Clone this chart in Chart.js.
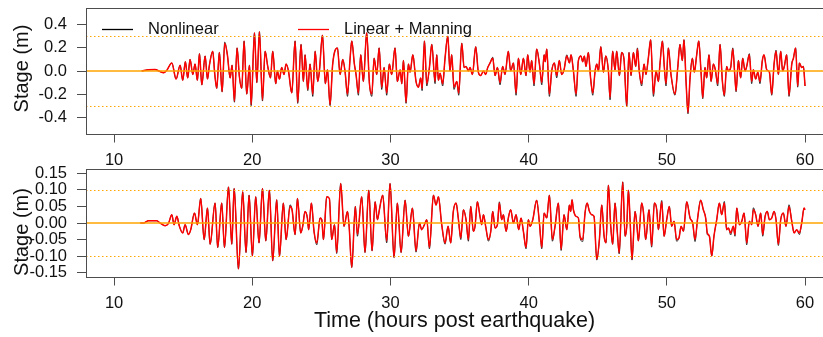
<!DOCTYPE html>
<html>
<head>
<meta charset="utf-8">
<title>Stage time series</title>
<script src="https://cdn.jsdelivr.net/npm/chart.js@4.4.1/dist/chart.umd.min.js"></script>
<style>
  body { margin: 0; background: #fff; }
  #wrap { position: relative; width: 823px; height: 337px; overflow: hidden; }
  #wrap canvas { position: absolute; left: 0; }
  #stageTop { top: 0; }
  #stageBottom { top: 160px; }
</style>
</head>
<body>
<div id="wrap">
  <canvas id="stageTop" width="823" height="170"></canvas>
  <canvas id="stageBottom" width="823" height="177"></canvas>
</div>
<script>
// ---- gauge 1 (upper panel) ----
var hours1 = [
  12.00,12.49,12.97,13.33,13.57,13.81,14.18,14.49,14.78,14.97,
  15.16,15.33,15.50,15.70,15.86,16.03,16.18,16.35,16.59,16.76,
  16.90,17.14,17.29,17.43,17.62,17.82,18.01,18.20,18.40,18.54,
  18.71,18.90,19.07,19.24,19.41,19.60,19.80,19.92,20.16,20.33,
  20.52,20.74,20.93,21.12,21.32,21.48,21.70,21.82,21.97,22.13,
  22.30,22.45,22.62,22.86,23.10,23.29,23.53,23.70,23.82,24.02,
  24.18,24.38,24.55,24.74,24.86,25.08,25.29,25.44,25.63,25.82,
  26.16,26.36,26.55,26.72,26.89,27.08,27.20,27.39,27.51,27.68,
  27.85,28.04,28.28,28.48,28.65,28.82,29.01,29.18,29.37,29.54,
  29.73,29.92,30.09,30.33,30.50,30.70,30.82,30.94,31.13,31.30,
  31.42,31.62,31.85,32.02,32.19,32.29,32.46,32.63,32.82,32.99,
  33.23,33.35,33.47,33.59,33.78,33.95,34.15,34.31,34.43,34.60,
  34.80,34.94,35.16,35.33,35.47,35.64,35.76,35.93,36.17,36.36,
  36.53,36.73,36.89,37.04,37.21,37.40,37.57,37.74,37.93,38.12,
  38.29,38.53,38.70,38.90,39.09,39.26,39.43,39.62,39.81,39.93,
  40.10,40.22,40.39,40.58,40.78,40.95,41.12,41.20,41.31,41.50,
  41.67,41.86,42.03,42.22,42.39,42.56,42.76,42.95,43.07,43.24,
  43.43,43.60,43.79,43.91,44.03,44.15,44.32,44.49,44.64,44.81,
  44.93,45.05,45.22,45.41,45.58,45.77,45.89,46.08,46.25,46.37,
  46.57,46.73,46.90,47.10,47.26,47.41,47.58,47.75,47.87,48.01,
  48.18,48.35,48.49,48.66,48.83,49.03,49.22,49.39,49.51,49.68,
  49.82,49.94,50.11,50.30,50.59,50.79,50.95,51.12,51.24,51.39,
  51.53,51.68,51.85,51.99,52.16,52.31,52.47,52.60,52.76,52.88,
  53.05,53.20,53.37,53.51,53.68,53.85,54.02,54.16,54.33,54.45,
  54.62,54.77,54.93,55.01,55.18,55.34,55.49,55.66,55.78,55.97,
  56.14,56.26,56.43,56.58,56.74,56.91,57.03,57.23,57.42,57.59,
  57.76,57.90,58.07,58.24,58.38,58.50,58.67,58.84,59.04,59.16,
  59.32,59.47,59.59,59.76,59.88,60.00
];
var nonlinear1 = [
  0,0.01,0.012,-0.005,-0.015,0.005,0.07,-0.07,0.05,-0.08,
  0.08,-0.06,0.10,-0.03,0.06,-0.08,0.15,-0.12,0.13,-0.07,
  0.05,0.17,-0.03,-0.15,0.16,-0.18,0.25,0.14,-0.06,0.05,
  -0.27,0.20,-0.05,-0.15,0.26,-0.20,0.05,-0.30,0.33,-0.10,
  0.34,-0.26,0.17,0.04,-0.06,0.17,-0.11,0.00,-0.07,0.03,
  -0.03,0.06,0.00,-0.19,0.26,-0.28,0.23,-0.09,0.14,-0.17,
  0.06,-0.22,0.17,-0.09,0.00,0.31,-0.11,0.01,-0.30,0.06,
  0.20,-0.03,0.10,-0.01,-0.22,0.11,0.26,0.06,-0.03,-0.21,
  0.14,-0.09,0.33,-0.11,-0.22,0.11,-0.03,0.20,-0.16,0.03,
  -0.21,0.06,-0.03,0.20,-0.09,0.01,-0.11,0.09,-0.28,0.06,
  -0.01,0.14,-0.09,-0.14,-0.06,-0.17,0.26,-0.13,0.03,0.23,
  -0.11,0.14,-0.08,-0.02,-0.13,0.11,0.30,0.00,0.14,-0.16,
  -0.09,-0.21,0.24,0.03,0.04,0.00,0.03,-0.03,0.21,-0.01,
  -0.04,0.00,-0.03,0.03,0.07,0.12,-0.04,0.03,-0.12,0.04,
  -0.03,0.17,0.00,0.07,-0.21,0.11,-0.03,0.11,-0.04,0.14,
  -0.01,0.09,-0.13,0.19,0.06,-0.12,0.14,0.08,0.19,-0.22,
  0.00,0.07,-0.06,0.09,-0.03,0.01,0.14,0.07,0.14,0.00,
  -0.22,0.09,0.13,0.08,0.13,0.04,0.16,-0.07,-0.21,0.00,
  0.06,0.00,0.21,-0.01,0.13,0.00,-0.25,0.17,0.01,0.17,
  -0.04,0.16,0.10,-0.31,0.16,-0.04,0.16,0.04,0.20,-0.01,
  -0.13,0.06,-0.03,0.11,0.27,-0.22,0.00,-0.09,0.07,0.26,
  0.03,-0.13,0.20,-0.03,-0.21,0.03,0.23,0.09,0.27,-0.09,
  -0.37,-0.06,0.11,-0.01,0.14,0.26,0.00,-0.24,0.03,-0.06,
  0.14,-0.09,0.06,0.01,-0.13,0.23,-0.09,-0.22,0.04,0.00,
  0.03,0.20,-0.06,-0.18,0.09,-0.06,0.11,0.00,0.04,0.15,
  -0.11,0.01,-0.07,-0.01,-0.11,0.09,0.14,0.01,-0.01,-0.21,
  0.06,0.18,-0.03,0.17,0.00,0.04,0.14,-0.22,0.06,0.11,
  0.20,-0.14,0.07,0.03,0.04,-0.13
];
var manning1 = [
  0,0.01,0.012,-0.005,-0.015,0.005,0.07,-0.07,0.05,-0.08,
  0.08,-0.06,0.10,-0.03,0.06,-0.08,0.15,-0.12,0.13,-0.07,
  0.05,0.17,-0.03,-0.15,0.16,-0.18,0.24,0.14,-0.06,0.05,
  -0.26,0.20,-0.05,-0.15,0.26,-0.20,0.05,-0.29,0.33,-0.10,
  0.34,-0.25,0.17,0.04,-0.06,0.17,-0.11,0.00,-0.07,0.03,
  -0.03,0.06,0.00,-0.19,0.26,-0.27,0.23,-0.09,0.14,-0.16,
  0.06,-0.20,0.17,-0.09,0.00,0.31,-0.11,0.01,-0.29,0.06,
  0.20,-0.03,0.10,-0.01,-0.20,0.11,0.26,0.06,-0.03,-0.19,
  0.14,-0.09,0.33,-0.11,-0.20,0.11,-0.03,0.20,-0.14,0.03,
  -0.19,0.06,-0.03,0.20,-0.09,0.01,-0.11,0.09,-0.27,0.06,
  -0.01,0.14,-0.09,-0.14,-0.06,-0.15,0.26,-0.11,0.03,0.23,
  -0.09,0.14,-0.08,-0.02,-0.11,0.11,0.30,0.00,0.14,-0.14,
  -0.09,-0.19,0.24,0.03,0.04,0.00,0.03,-0.03,0.21,-0.01,
  -0.04,0.00,-0.03,0.03,0.07,0.11,-0.04,0.03,-0.10,0.04,
  -0.03,0.17,0.00,0.07,-0.19,0.11,-0.03,0.11,-0.04,0.14,
  -0.01,0.09,-0.11,0.19,0.06,-0.10,0.14,0.08,0.19,-0.20,
  0.00,0.07,-0.04,0.09,-0.03,0.01,0.13,0.07,0.14,0.00,
  -0.20,0.09,0.13,0.08,0.13,0.04,0.16,-0.07,-0.19,0.00,
  0.06,0.00,0.21,-0.01,0.13,0.00,-0.23,0.17,0.01,0.17,
  -0.04,0.16,0.10,-0.30,0.16,-0.04,0.16,0.04,0.19,-0.01,
  -0.11,0.06,-0.03,0.11,0.27,-0.20,0.00,-0.09,0.07,0.26,
  0.03,-0.11,0.20,-0.03,-0.20,0.03,0.23,0.09,0.27,-0.09,
  -0.36,-0.06,0.11,-0.01,0.14,0.26,0.00,-0.23,0.03,-0.06,
  0.14,-0.09,0.06,0.01,-0.11,0.23,-0.09,-0.21,0.04,0.00,
  0.03,0.19,-0.06,-0.17,0.09,-0.06,0.11,0.00,0.04,0.14,
  -0.09,0.01,-0.07,-0.01,-0.09,0.09,0.14,0.01,-0.01,-0.20,
  0.06,0.17,-0.03,0.17,0.00,0.04,0.14,-0.21,0.06,0.11,
  0.20,-0.13,0.07,0.03,0.04,-0.13
];

// ---- gauge 2 (lower panel) ----
var hours2 = [
  11.90,12.13,12.49,13.09,13.33,13.69,13.93,14.18,14.34,14.54,
  14.73,14.97,15.14,15.38,15.55,15.82,16.03,16.27,16.52,16.76,
  16.95,17.31,17.50,17.79,17.99,18.28,18.52,18.69,19.00,19.31,
  19.55,19.77,20.01,20.25,20.49,20.74,20.98,21.24,21.48,21.77,
  21.97,22.25,22.45,22.74,22.88,23.10,23.27,23.51,23.65,23.82,
  23.99,24.08,24.28,24.47,24.67,24.91,25.03,25.15,25.39,25.58,
  25.75,25.95,26.11,26.40,26.64,26.89,27.01,27.20,27.46,27.61,
  27.92,28.16,28.43,28.67,28.89,29.06,29.20,29.44,29.73,29.97,
  30.26,30.50,30.77,31.06,31.30,31.59,31.85,32.10,32.26,32.46,
  32.63,32.82,33.11,33.30,33.47,33.71,33.95,34.17,34.36,34.55,
  34.75,34.92,35.09,35.28,35.47,35.64,35.81,36.00,36.12,36.29,
  36.48,36.60,36.73,36.89,37.09,37.26,37.40,37.57,37.74,37.88,
  38.05,38.17,38.37,38.53,38.70,38.90,39.09,39.28,39.45,39.62,
  39.81,39.98,40.10,40.30,40.58,40.78,40.95,41.12,41.31,41.50,
  41.72,41.91,42.15,42.35,42.56,42.76,42.95,43.04,43.14,43.24,
  43.43,43.60,43.72,43.91,44.08,44.23,44.40,44.56,44.73,44.93,
  45.12,45.29,45.46,45.60,45.77,45.94,46.08,46.25,46.42,46.55,
  46.81,46.98,47.10,47.22,47.34,47.48,47.70,47.82,47.94,48.18,
  48.30,48.47,48.71,48.90,49.10,49.27,49.39,49.63,49.80,49.99,
  50.18,50.35,50.52,50.71,50.88,51.03,51.20,51.44,51.68,51.87,
  52.04,52.23,52.45,52.64,52.81,52.93,53.08,53.25,53.41,53.61,
  53.80,53.97,54.16,54.33,54.45,54.62,54.81,54.93,55.06,55.25,
  55.42,55.59,55.78,55.97,56.14,56.26,56.43,56.60,56.79,56.94,
  57.11,57.27,57.42,57.59,57.76,57.90,58.07,58.24,58.43,58.62,
  58.84,59.04,59.21,59.40,59.59,59.76,59.93,60.00
];
var nonlinear2 = [
  0,0,0.007,0.007,0,-0.008,-0.002,0.025,-0.005,0.02,
  -0.01,-0.03,-0.005,-0.035,-0.02,0.03,-0.005,0.074,-0.05,0.045,
  -0.064,0.06,-0.074,0.06,-0.074,0.109,-0.064,0.104,-0.139,0.094,
  -0.089,0.084,-0.099,0.079,-0.06,0.104,-0.054,0.099,-0.114,0.07,
  -0.10,0.06,-0.05,0.055,0.04,-0.035,0.074,-0.03,-0.01,0.035,
  0.015,-0.02,0.06,-0.025,-0.066,0.015,0.01,-0.05,0.079,0.074,
  -0.05,-0.005,-0.092,0.119,-0.01,0.035,-0.01,-0.134,0.05,-0.04,
  0.079,-0.089,0.099,-0.084,0.064,0.01,0.04,0.084,-0.06,0.119,
  -0.104,0.06,-0.089,0.069,-0.04,0.045,-0.088,0.0,-0.02,-0.005,
  0.01,-0.078,0.084,0.054,0.079,-0.005,-0.064,-0.01,-0.06,0.035,
  0.06,0.01,-0.05,0.04,0.01,-0.055,0.05,-0.025,-0.01,0.064,
  0.02,-0.005,0.025,-0.01,-0.055,-0.025,0.035,-0.015,-0.005,0.064,
  0.01,0.025,-0.025,0.015,0.04,0.0,0.025,-0.02,0.015,-0.025,
  -0.078,0.01,-0.01,0.01,0.069,0.0,-0.078,0.03,0.015,0.084,
  -0.055,-0.01,0.06,-0.083,0.025,-0.02,0.054,0.035,0.07,0.04,
  0.02,0.015,-0.045,-0.056,0.03,0.06,0.035,0.025,0.02,-0.112,
  -0.05,0.054,-0.04,-0.06,0.114,-0.01,-0.064,0.06,-0.03,-0.093,
  0.124,-0.04,-0.01,0.099,0.01,-0.112,0.035,0.0,-0.054,0.06,
  0.035,-0.05,0.04,-0.073,0.06,0.04,-0.02,0.068,-0.04,0.01,
  0.05,-0.01,0.005,-0.055,-0.045,-0.01,-0.025,0.064,0.015,0.0,
  -0.056,0.015,0.069,0.04,0.015,-0.035,-0.04,-0.1,-0.04,0.01,
  0.06,0.025,0.065,-0.02,-0.015,-0.036,-0.01,-0.04,0.045,-0.005,
  0.005,0.03,-0.066,0.005,-0.005,0.046,0.025,-0.01,0.03,-0.04,
  0.02,0.035,0.01,0.015,0.035,0.01,-0.068,0.01,0.03,-0.01,
  0.055,0.005,-0.03,-0.02,-0.035,0.0,0.045,0.04
];
var manning2 = [
  0,0,0.007,0.007,0,-0.008,-0.002,0.025,-0.005,0.02,
  -0.01,-0.03,-0.005,-0.035,-0.02,0.03,-0.005,0.074,-0.05,0.045,
  -0.064,0.06,-0.074,0.06,-0.074,0.109,-0.064,0.104,-0.139,0.094,
  -0.089,0.084,-0.099,0.079,-0.06,0.104,-0.054,0.099,-0.114,0.07,
  -0.10,0.06,-0.05,0.05,0.04,-0.035,0.074,-0.03,-0.01,0.035,
  0.015,-0.02,0.06,-0.025,-0.06,0.015,0.01,-0.05,0.079,0.074,
  -0.05,-0.005,-0.089,0.119,-0.01,0.035,-0.01,-0.134,0.05,-0.035,
  0.079,-0.089,0.099,-0.084,0.064,0.01,0.04,0.084,-0.054,0.119,
  -0.104,0.06,-0.089,0.069,-0.04,0.045,-0.084,0.0,-0.02,-0.005,
  0.01,-0.074,0.084,0.054,0.079,-0.005,-0.06,-0.01,-0.06,0.035,
  0.06,0.01,-0.045,0.04,0.01,-0.05,0.05,-0.025,-0.01,0.064,
  0.02,-0.005,0.025,-0.01,-0.05,-0.025,0.035,-0.015,-0.005,0.06,
  0.01,0.025,-0.025,0.015,0.04,0.0,0.025,-0.02,0.015,-0.025,
  -0.074,0.01,-0.01,0.01,0.069,0.0,-0.074,0.03,0.015,0.084,
  -0.05,-0.01,0.06,-0.079,0.025,-0.02,0.054,0.035,0.07,0.04,
  0.02,0.015,-0.04,-0.05,0.03,0.06,0.035,0.025,0.02,-0.109,
  -0.05,0.054,-0.04,-0.06,0.114,-0.01,-0.064,0.06,-0.03,-0.09,
  0.124,-0.04,-0.01,0.099,0.01,-0.109,0.035,0.0,-0.054,0.06,
  0.035,-0.05,0.04,-0.069,0.06,0.04,-0.02,0.064,-0.04,0.01,
  0.05,-0.01,0.005,-0.05,-0.045,-0.01,-0.025,0.064,0.015,0.0,
  -0.05,0.015,0.069,0.04,0.015,-0.03,-0.04,-0.099,-0.04,0.01,
  0.06,0.025,0.06,-0.02,-0.015,-0.03,-0.01,-0.035,0.045,-0.005,
  0.005,0.03,-0.06,0.005,-0.005,0.04,0.025,-0.01,0.03,-0.035,
  0.02,0.035,0.01,0.015,0.035,0.01,-0.064,0.01,0.03,-0.01,
  0.05,0.005,-0.03,-0.02,-0.03,0.0,0.045,0.04
];

// axis ticks and guide levels
var timeTicks = [10, 20, 30, 40, 50, 60];
var stageTicks1 = [-0.4, -0.2, 0.0, 0.2, 0.4];
var stageTicks2 = [-0.15, -0.10, -0.05, 0.00, 0.05, 0.10, 0.15];
var guides1 = [0.3, -0.3];
var guides2 = [0.1, -0.1];

var FONT = '"Liberation Sans", Arial, Helvetica, sans-serif';
var AXIS_GREY = '#4d4d4d';
var ORANGE = '#ffa500';

function series(hours, values) {
  return hours.map(function (h, i) { return { x: h, y: values[i] }; });
}

// orange guide lines, frame, rotated y title and the legend
var stagePanel = {
  id: 'stagePanel',
  afterDatasetsDraw: function (chart, args, opts) {
    var ctx = chart.ctx, a = chart.chartArea, y = chart.scales.y;
    ctx.save();
    ctx.beginPath();
    ctx.rect(a.left, a.top, a.right - a.left, a.bottom - a.top);
    ctx.clip();
    ctx.strokeStyle = ORANGE;
    ctx.lineWidth = 1.2;
    ctx.setLineDash([1.5, 2.5]);
    opts.dotted.forEach(function (v) {
      var py = Math.round(y.getPixelForValue(v)) + 0.5;
      ctx.beginPath(); ctx.moveTo(a.left, py); ctx.lineTo(a.right, py); ctx.stroke();
    });
    ctx.setLineDash([]);
    ctx.lineWidth = 1.6;
    var p0 = y.getPixelForValue(0);
    ctx.beginPath(); ctx.moveTo(a.left, p0); ctx.lineTo(a.right, p0); ctx.stroke();
    ctx.restore();

    ctx.save();
    ctx.strokeStyle = AXIS_GREY;
    ctx.lineWidth = 1;
    ctx.strokeRect(Math.round(a.left) + 0.5, Math.round(a.top) + 0.5,
                   Math.round(a.right - a.left) + 2, Math.round(a.bottom - a.top));

    ctx.fillStyle = '#111';
    ctx.font = '20px ' + FONT;
    ctx.translate(opts.titleX, opts.titleY);
    ctx.rotate(-Math.PI / 2);
    ctx.textAlign = 'center';
    ctx.textBaseline = 'middle';
    ctx.fillText('Stage (m)', 0, 0);
    ctx.restore();

    if (opts.legend) {
      ctx.save();
      ctx.font = '16.5px ' + FONT;
      ctx.textBaseline = 'middle';
      ctx.fillStyle = '#111';
      opts.legend.forEach(function (it) {
        ctx.strokeStyle = it.color;
        ctx.lineWidth = 1.3;
        ctx.beginPath(); ctx.moveTo(it.x0, 29.5); ctx.lineTo(it.x1, 29.5); ctx.stroke();
        ctx.fillText(it.text, it.tx, 29.5);
      });
      ctx.restore();
    }
  }
};

function stageChart(id, hours, nonlinear, manning, cfg) {
  var tickFont = { family: FONT, size: 16.5 };
  return new Chart(document.getElementById(id), {
    type: 'line',
    data: {
      datasets: [
        { label: 'Nonlinear', data: series(hours, nonlinear), borderColor: '#000000',
          borderWidth: 0.8, pointRadius: 0, cubicInterpolationMode: 'monotone', order: 1 },
        { label: 'Linear + Manning', data: series(hours, manning), borderColor: '#ff0000',
          borderWidth: 1.5, pointRadius: 0, cubicInterpolationMode: 'monotone', order: 0 }
      ]
    },
    options: {
      responsive: false,
      animation: false,
      layout: { padding: { top: cfg.top, left: 0, right: 0, bottom: 0 } },
      plugins: {
        legend: { display: false },
        tooltip: { enabled: false },
        stagePanel: { dotted: cfg.guides, titleX: 22.5, titleY: cfg.titleY, legend: cfg.legend }
      },
      scales: {
        x: {
          type: 'linear', min: 7.97, max: 61.3,
          afterBuildTicks: function (s) { s.ticks = timeTicks.map(function (v) { return { value: v }; }); },
          afterFit: function (s) { s.height = cfg.xHeight; s.paddingLeft = 0; s.paddingRight = 0; },
          grid: { drawOnChartArea: false, color: AXIS_GREY, tickLength: 8.5 },
          border: { display: false },
          ticks: { font: tickFont, color: '#111', padding: 8, maxRotation: 0, autoSkip: false,
                   callback: function (v) { return String(v); } },
          title: cfg.xTitle ? { display: true, text: cfg.xTitle, color: '#111',
                   font: { family: FONT, size: 21.5 }, padding: { top: 0, bottom: 3 } } : { display: false }
        },
        y: {
          min: -cfg.yLim, max: cfg.yLim,
          afterBuildTicks: function (s) { s.ticks = cfg.yTicks.map(function (v) { return { value: v }; }); },
          afterFit: function (s) { s.width = 86; s.paddingTop = 0; s.paddingBottom = 0; },
          grid: { drawOnChartArea: false, color: AXIS_GREY, tickLength: 9 },
          border: { display: false },
          ticks: { font: tickFont, color: '#111', padding: 10, autoSkip: false,
                   callback: function (v) { return Number(v).toFixed(cfg.digits); } }
        }
      }
    },
    plugins: [stagePanel]
  });
}

stageChart('stageTop', hours1, nonlinear1, manning1, {
  top: 8, xHeight: 36, yLim: 0.545, yTicks: stageTicks1, digits: 1,
  guides: guides1, titleY: 68.5,
  legend: [
    { text: 'Nonlinear', color: '#000000', x0: 102, x1: 133, tx: 148 },
    { text: 'Linear + Manning', color: '#ff0000', x0: 298, x1: 329, tx: 344 }
  ]
});

stageChart('stageBottom', hours2, nonlinear2, manning2, {
  top: 9, xHeight: 60, yLim: 0.163, yTicks: stageTicks2, digits: 2,
  guides: guides2, titleY: 72, xTitle: 'Time (hours post earthquake)'
});
</script>
</body>
</html>
